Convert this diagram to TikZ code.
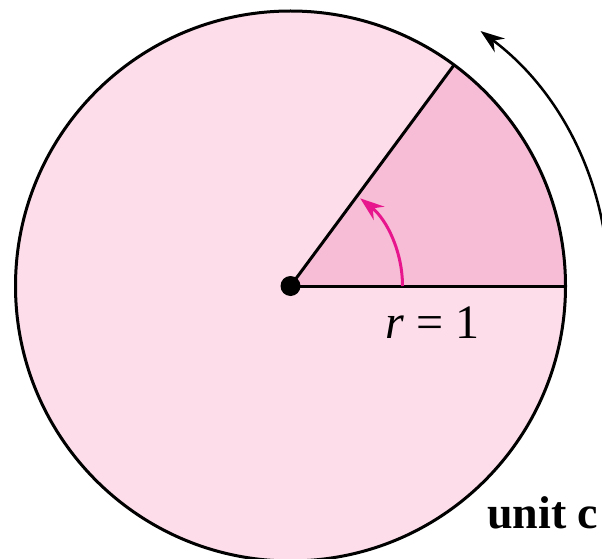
\documentclass[tikz,border=0pt]{standalone}
\usepackage{fontspec}
\setmainfont{Liberation Serif}
\usetikzlibrary{arrows.meta}
\definecolor{diskpink}{HTML}{FCDDE9}
\definecolor{sectorpink}{HTML}{F7BDD7}
\definecolor{anglemag}{HTML}{E8168C}
\tikzset{
  outline/.style={line width=3pt},
  lbl/.style={anchor=base west, inner sep=0pt, font=\fontsize{48}{54}\selectfont},
  bigtip/.style={-{Stealth[length=24pt,width=17pt,inset=8pt]}},
}
\begin{document}
\begin{tikzpicture}[x=1pt,y=1pt,line join=round]
\useasboundingbox (0,0) rectangle (602,558);
\clip (0,0) rectangle (602,558);
\coordinate (C) at (290.5,272);
\fill[diskpink] (C) circle (275);
\fill[sectorpink] (C) -- +(0:275) arc[start angle=0,end angle=53.5,radius=275] -- cycle;
\draw[outline] (C) circle (275);
\draw[outline] (C) -- +(0:275);
\draw[outline] (C) -- +(53.5:275);
\node[circle, fill=black, inner sep=0pt, minimum size=20pt] (O) at (C) {};
\draw[anglemag, line width=3pt, bigtip]
  (O.center) ++(0:112) arc[start angle=0,end angle=51.5,radius=112];
\draw[line width=2.5pt, bigtip]
  (O.center) ++(-5:318) arc[start angle=-5,end angle=53.3,radius=318];
\node[lbl] (rlabel) at (385,220) {\textit{r} = 1};
\node[lbl, font=\fontsize{46}{52}\selectfont\bfseries] (unitlabel) at (487,30) {unit c};
\end{tikzpicture}
\end{document}
